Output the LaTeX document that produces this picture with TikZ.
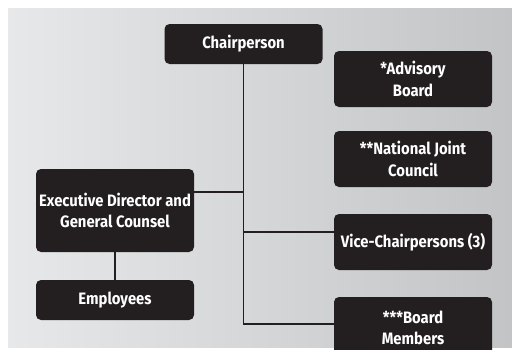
\documentclass[tikz,border=0pt]{standalone}
\usepackage{fontspec}
\newfontfamily\boxfont{Fira Sans}[FakeStretch=0.9]
\definecolor{boxfill}{HTML}{231F20}
\definecolor{bgleft}{HTML}{E7E8E9}
\definecolor{bgright}{HTML}{C3C4C6}
\begin{document}
\begin{tikzpicture}[x=1pt,y=-1pt,
  orgbox/.style={draw=none, fill=boxfill, rounded corners=5pt, text=white,
    font=\boxfont\bfseries\fontsize{16.5}{21.5}\selectfont, align=center,
    minimum width=158pt, inner sep=0pt},
  link/.style={draw=boxfill, line width=1.8pt}]
  \useasboundingbox (0,0) rectangle (512,349);
  \clip (0,0) rectangle (512,349);
  % shaded backdrop
  \shade[left color=bgleft, right color=bgright] (8,8) rectangle (512,347);

  % boxes
  \node[orgbox, minimum height=40pt] (chair) at (243.5,44) {Chairperson};
  \node[orgbox, minimum height=56pt] (adv) at (413,79) {*Advisory\\Board};
  \node[orgbox, minimum height=56pt] (njc) at (413,159) {**National Joint\\Council};
  \node[orgbox, minimum height=83pt] (exec) at (115,210.5) {Executive Director and\\General Counsel};
  \node[orgbox, minimum height=40pt] (emp) at (115,300) {Employees};
  \node[orgbox, minimum height=56pt] (vice) at (413,242) {Vice-Chairpersons (3)};
  \node[orgbox, minimum height=62pt] (board) at (413,328) {***Board\\Members};

  % junction points on the trunk
  \coordinate (j1) at (chair.south |- 0,192);
  \coordinate (j2) at (chair.south |- 0,232);
  \coordinate (j3) at (chair.south |- 0,324);

  % connectors
  \draw[link] (chair.south) -- (j3) -- (board.west |- j3);
  \draw[link] (exec.east |- j1) -- (j1);
  \draw[link] (j2) -- (vice.west |- j2);
  \draw[link] (exec.south) -- (emp.north);
\end{tikzpicture}
\end{document}
